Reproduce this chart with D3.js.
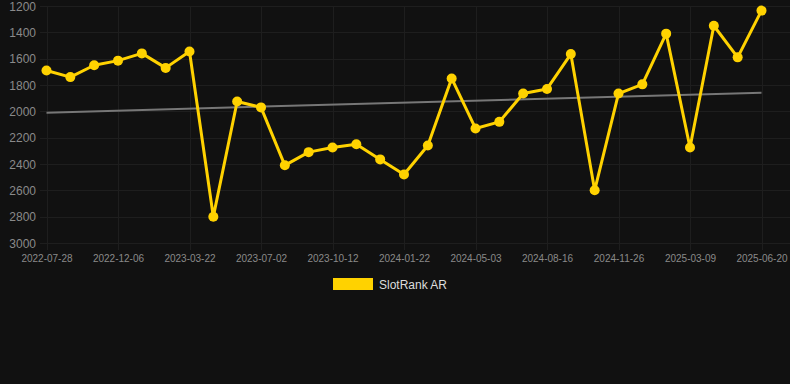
<!DOCTYPE html>
<html><head><meta charset="utf-8">
<script src="https://cdn.jsdelivr.net/npm/d3@7"></script>
<style>
html,body{margin:0;padding:0;background:#111111;}
svg{display:block;font-family:"Liberation Sans",Arial,Helvetica,sans-serif;}
</style></head>
<body>
<svg id="c" width="790" height="384"></svg>
<script>
const categories = [
 "2022-07-28","2022-09-10","2022-10-24","2022-12-06","2023-01-10","2023-02-14",
 "2023-03-22","2023-04-25","2023-05-29","2023-07-02","2023-08-05","2023-09-08",
 "2023-10-12","2023-11-15","2023-12-19","2024-01-22","2024-02-25","2024-03-30",
 "2024-05-03","2024-06-07","2024-07-12","2024-08-16","2024-09-19","2024-10-23",
 "2024-11-26","2024-12-30","2025-02-02","2025-03-09","2025-04-12","2025-05-16",
 "2025-06-20"];
const rankValues = [
 1690,1740,1650,1615,1560,1670,1545,2800,1925,1970,2410,2310,2275,2250,2365,2480,
 2260,1750,2130,2080,1865,1830,1565,2600,1865,1795,1410,2275,1350,1590,1235];
const trendValues = [2010, 1858];
const yTicks = [1200,1400,1600,1800,2000,2200,2400,2600,2800,3000];
const xTickLabels = categories.filter((d,i)=>i%3===0);
const seriesName = "SlotRank AR";

const svg = d3.select("#c");
const x = d3.scalePoint().domain(categories).range([46.5, 761.5]);
const y = d3.scaleLinear().domain([1200,3000]).range([6,243]);
const gridColor = "#1e1e1e";
const tickColor = "#8a8a8a";
const gold = "#ffd200";

// horizontal grid
svg.append("g").selectAll("line").data(yTicks).join("line")
  .attr("x1",40).attr("x2",790)
  .attr("y1",d=>Math.round(y(d))+0.5).attr("y2",d=>Math.round(y(d))+0.5)
  .attr("stroke",gridColor).attr("stroke-width",1);
// vertical grid
svg.append("g").selectAll("line").data(xTickLabels).join("line")
  .attr("x1",d=>Math.round(x(d))+0.5).attr("x2",d=>Math.round(x(d))+0.5)
  .attr("y1",6).attr("y2",250)
  .attr("stroke",gridColor).attr("stroke-width",1);

// y axis
const ya = svg.append("g").attr("transform","translate(36,0)")
  .call(d3.axisLeft(y).tickValues(yTicks).tickFormat(d3.format("d")).tickSize(0).tickPadding(0));
ya.select(".domain").remove();
ya.selectAll("text").attr("fill",tickColor).attr("font-size",12).attr("dy","0.36em")
  .attr("font-family","Liberation Sans, Arial, sans-serif");

// x axis
const xa = svg.append("g").attr("transform","translate(0,252)")
  .call(d3.axisBottom(x).tickValues(xTickLabels).tickSize(0).tickPadding(0));
xa.select(".domain").remove();
xa.selectAll("text").attr("fill",tickColor).attr("font-size",10).attr("dy","0.95em")
  .attr("font-family","Liberation Sans, Arial, sans-serif");

// trend line
svg.append("line")
  .attr("x1",x(categories[0])).attr("x2",x(categories[categories.length-1]))
  .attr("y1",y(trendValues[0])).attr("y2",y(trendValues[1]))
  .attr("stroke","#777777").attr("stroke-width",2);

// data line
const data = categories.map((c,i)=>({c,v:rankValues[i]}));
svg.append("path").datum(data)
  .attr("fill","none").attr("stroke",gold).attr("stroke-width",3)
  .attr("stroke-linejoin","round")
  .attr("d",d3.line().x(d=>x(d.c)).y(d=>y(d.v)));
svg.append("g").selectAll("circle").data(data).join("circle")
  .attr("cx",d=>x(d.c)).attr("cy",d=>y(d.v)).attr("r",5).attr("fill",gold);

// legend
const lg = svg.append("g");
lg.append("rect").attr("x",333).attr("y",278).attr("width",40).attr("height",12).attr("fill",gold);
lg.append("text").attr("x",379).attr("y",289).attr("fill","#dddddd").attr("font-size",12)
  .text(seriesName);
</script>
</body></html>
